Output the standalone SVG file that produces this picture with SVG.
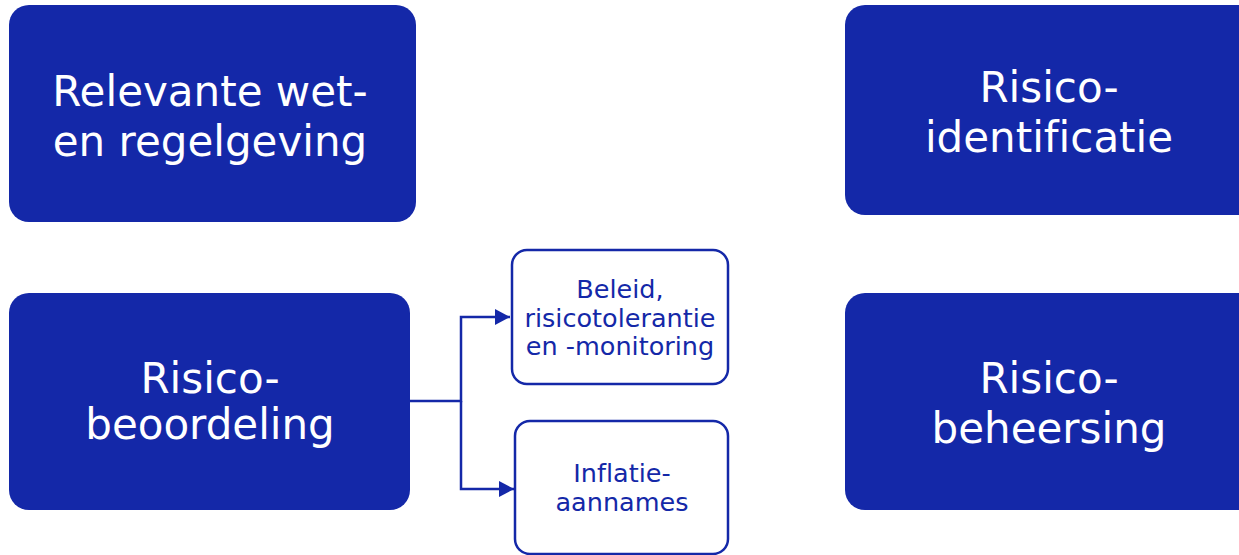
<svg xmlns="http://www.w3.org/2000/svg" width="1239" height="555" viewBox="0 0 1239 555">
<style>
.big{fill:#1428a8;}
.bt{font-family:"DejaVu Sans",Verdana,sans-serif;font-size:42px;fill:#ffffff;text-anchor:middle;font-variant-ligatures:none;}
.small{fill:#ffffff;stroke:#1428a8;stroke-width:2.5;}
.st{font-family:"DejaVu Sans",Verdana,sans-serif;font-size:25.5px;fill:#1428a8;text-anchor:middle;font-variant-ligatures:none;}
.conn{fill:none;stroke:#1428a8;stroke-width:2.5;}
</style>
<defs>
<marker id="arr" markerUnits="userSpaceOnUse" markerWidth="17" markerHeight="18" refX="15" refY="9" orient="auto">
<path d="M0,1 L15,9 L0,17 Z" fill="#1428a8"/>
</marker>
</defs>
<rect width="1239" height="555" fill="#ffffff"/>
<g id="connectors">
<path class="conn" d="M410,401 H461 V317 H510" marker-end="url(#arr)"/>
<path class="conn" d="M461,401 V489 H514" marker-end="url(#arr)"/>
</g>
<g id="node-wetgeving">
<rect class="big" x="9" y="5" width="407" height="217" rx="20"/>
<text class="bt" x="210" y="106">Relevante wet-</text>
<text class="bt" x="210" y="156">en regelgeving</text>
</g>
<g id="node-identificatie">
<rect class="big" x="845" y="5" width="420" height="210" rx="20"/>
<text class="bt" x="1049" y="102">Risico-</text>
<text class="bt" x="1049" y="152">identificatie</text>
</g>
<g id="node-beoordeling">
<rect class="big" x="9" y="293" width="401" height="217" rx="20"/>
<text class="bt" x="210" y="393">Risico-</text>
<text class="bt" x="210" y="439">beoordeling</text>
</g>
<g id="node-beheersing">
<rect class="big" x="845" y="293" width="420" height="217" rx="20"/>
<text class="bt" x="1049" y="393">Risico-</text>
<text class="bt" x="1049" y="443">beheersing</text>
</g>
<g id="node-beleid">
<rect class="small" x="512" y="250" width="216" height="134" rx="15"/>
<text class="st" x="620" y="298">Beleid,</text>
<text class="st" x="620" y="327">risicotolerantie</text>
<text class="st" x="620" y="355">en -monitoring</text>
</g>
<g id="node-inflatie">
<rect class="small" x="515" y="421" width="213" height="133" rx="15"/>
<text class="st" x="622" y="482">Inflatie-</text>
<text class="st" x="622" y="511">aannames</text>
</g>
</svg>
